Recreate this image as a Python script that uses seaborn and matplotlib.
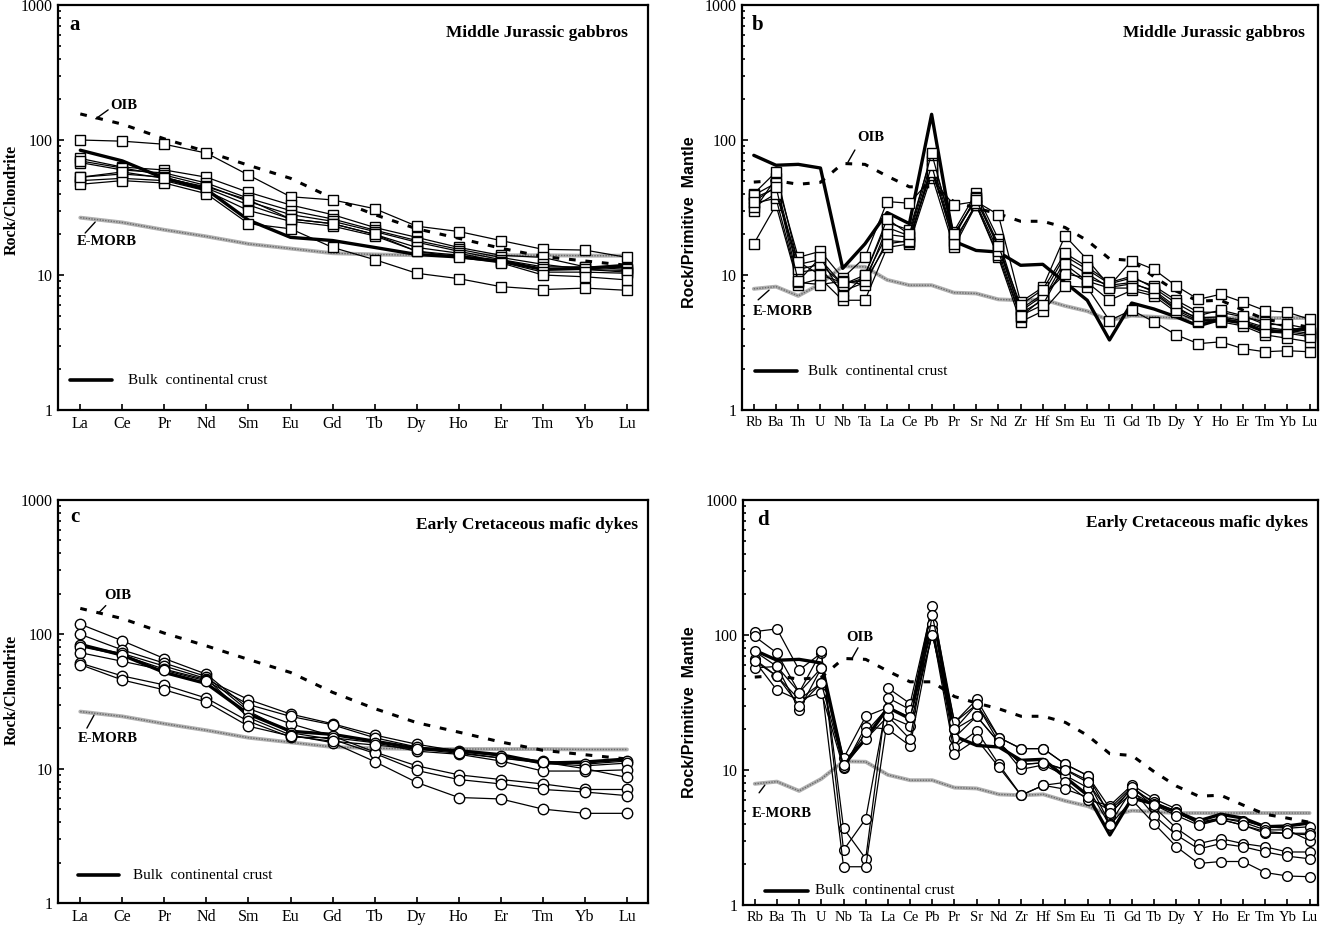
import numpy as np
import pandas as pd
import matplotlib
matplotlib.use('Agg')
import matplotlib.pyplot as plt
import seaborn as sns
from matplotlib.ticker import LogLocator, NullFormatter

# element orders
ree = ['La', 'Ce', 'Pr', 'Nd', 'Sm', 'Eu', 'Gd', 'Tb', 'Dy', 'Ho', 'Er', 'Tm', 'Yb', 'Lu']
spider = ['Rb', 'Ba', 'Th', 'U', 'Nb', 'Ta', 'La', 'Ce', 'Pb', 'Pr', 'Sr', 'Nd', 'Zr',
          'Hf', 'Sm', 'Eu', 'Ti', 'Gd', 'Tb', 'Dy', 'Y', 'Ho', 'Er', 'Tm', 'Yb', 'Lu']

# reference curves (chondrite normalised)
oib_ree = [156, 131, 102, 82, 65, 52, 37, 28, 22, 18.7, 15.8, 13.7, 12.7, 11.8]
emorb_ree = [26.6, 24.5, 21.6, 19.3, 17.0, 15.7, 14.5, 14.2, 14.0, 14.0, 14.0, 14.0, 13.9, 13.9]
bcc_ree = [84, 70, 52, 43, 25.5, 19, 18, 16, 14.2, 13.6, 12.7, 11, 11.2, 11.8]

# reference curves (primitive mantle normalised)
oib_pm = [48.8, 50, 47, 48.6, 67, 66, 54, 45, 45, 35, 31.3, 28.4, 25, 25, 22.5, 18,
          13.2, 12.8, 9.7, 7.6, 6.4, 6.5, 5.5, 4.7, 4.4, 4.1]
emorb_pm = [7.9, 8.2, 7.0, 8.6, 11.6, 11.5, 9.2, 8.4, 8.4, 7.4, 7.3, 6.6, 6.5, 6.6, 5.9,
            5.4, 4.6, 5.0, 4.9, 4.8, 4.8, 4.8, 4.8, 4.8, 4.8, 4.8]
bcc_pm = [77, 65, 66, 62, 11.2, 17, 29, 24, 155, 17.8, 15.2, 14.8, 11.8, 12, 8.8, 6.5,
          3.3, 6.2, 5.6, 4.9, 4.2, 4.7, 4.4, 3.8, 3.85, 4.05]

# Middle Jurassic gabbros, REE
gabbro_ree = [
    [100, 98, 93, 80, 55, 38, 36, 31, 23, 21, 18, 15.5, 15.3, 13.5],
    [73, 63, 60, 53, 41, 33, 28, 22.5, 19, 16, 14, 13.5, 11.5, 11.3],
    [68, 60, 57, 48, 37, 30, 26, 21.5, 18, 15.5, 13.5, 12, 11, 10.8],
    [70, 62, 55, 46, 35, 28, 25, 21, 17.5, 15, 13, 11.5, 11.5, 11],
    [53, 56, 53, 44, 33, 26, 24, 20, 16, 14.5, 12.5, 11, 11, 10.5],
    [50, 52, 50, 42, 30, 25, 23, 19.5, 15, 14, 12.5, 10.5, 10.5, 10.3],
    [47, 50, 48, 40, 24, 22, 16, 13, 10.3, 9.4, 8.2, 7.8, 8.0, 7.7],
    [53, 58, 52, 45, 36, 26, 24, 20, 15, 13.5, 12.3, 10, 9.7, 9.2],
]

# Middle Jurassic gabbros, trace elements
gabbro_pm = [
    [30, 52, 13.5, 15, 9.5, 13.5, 35, 34, 52, 33, 35, 28, 6.3, 8.1, 19.5, 13, 8.3, 12.8, 11, 8.3, 6.6, 7.2, 6.3, 5.45, 5.3, 4.7],
    [17, 33, 8.5, 9.4, 6.5, 6.5, 16, 17, 55, 16, 33, 13.5, 4.5, 5.4, 8.3, 8.1, 4.6, 5.5, 4.5, 3.6, 3.1, 3.2, 2.85, 2.7, 2.75, 2.7],
    [40, 58, 12, 13, 8.5, 10, 24.5, 21.5, 76, 21, 40.5, 18.5, 5.6, 7.2, 13.8, 11, 8.6, 9.5, 8.3, 6.5, 5.3, 5.3, 4.9, 4.5, 4.1, 3.8],
    [37, 44, 10.5, 11, 7.6, 8.8, 22.5, 19.5, 70, 19, 38, 17, 5.2, 6.5, 12.8, 10.2, 8.1, 8.6, 7.7, 5.8, 4.7, 4.7, 4.5, 4.0, 3.8, 3.6],
    [34, 37, 8.8, 8.5, 9, 8.5, 18, 17.5, 62, 18, 33, 14, 4.9, 6.7, 11, 8.8, 6.5, 7.7, 7, 5.3, 4.5, 4.5, 4.2, 3.6, 3.4, 3.2],
    [39, 48, 11, 12, 8.5, 9.5, 20, 19, 58, 20, 37, 16, 5.4, 7, 10.2, 9.5, 8.4, 8.8, 7.5, 5.6, 4.8, 4.9, 4.6, 4.1, 3.9, 3.7],
    [32, 40, 12.5, 10, 8.8, 9, 17, 18, 65, 17, 34, 15, 5.0, 6, 12, 9, 8.0, 8, 7.3, 5.5, 4.6, 4.6, 4.4, 3.8, 3.7, 3.5],
    [35, 45, 9, 13.5, 7, 10, 26, 20, 80, 20, 36, 16.5, 6.0, 7.8, 14.5, 11.5, 8.8, 9.8, 8, 6.2, 5.0, 5.5, 5.0, 4.3, 4.3, 4.0],
]

# Early Cretaceous mafic dykes, REE
dyke_ree = [
    [119, 89.5, 66, 50.5, 28, 21.6, 17.5, 13.3, 10.5, 9.0, 8.3, 7.7, 7.0, 7.0],
    [100, 76.5, 61, 48.5, 26.8, 18.5, 16.5, 13, 9.7, 8.3, 7.7, 7.0, 6.7, 6.3],
    [83, 72, 58, 46.8, 24, 17.8, 15.6, 11.3, 7.9, 6.1, 5.95, 5.0, 4.65, 4.65],
    [81, 70, 55, 46, 32.7, 25.5, 21.6, 17.8, 15.2, 13.5, 12.4, 11.4, 10.8, 11.4],
    [73, 63, 54, 45, 30, 24.5, 21.2, 17, 14.5, 13.2, 12, 11, 10.5, 11],
    [61, 49, 42, 33.5, 22.5, 17.2, 17, 15.6, 13.5, 12.8, 11.4, 9.6, 9.6, 9.8],
    [59.5, 45.7, 38.6, 31.3, 20.7, 17.5, 16, 15, 14, 13, 12, 11.2, 10, 8.6],
]

# Early Cretaceous mafic dykes, trace elements
dyke_pm = [
    [106, 111, 55, 73.5, 3.7, 2.2, 40.5, 31, 163, 22.5, 33.3, 17.4, 14.4, 14.4, 11, 9.1, 4.6, 7.5, 5.3, 3.7, 2.85, 3.1, 2.85, 2.7, 2.47, 2.47],
    [97.5, 73.5, 37.5, 75.5, 2.55, 4.35, 34.3, 28, 110, 20, 30.6, 16, 11, 11.3, 10.1, 8.4, 4.0, 7.2, 4.6, 3.3, 2.6, 2.85, 2.7, 2.47, 2.3, 2.2],
    [66, 49.5, 33.3, 44, 1.92, 1.92, 25, 21.2, 103, 17.4, 25, 16, 10.1, 10.9, 9.1, 7.4, 3.9, 6.0, 4.0, 2.7, 2.03, 2.1, 2.1, 1.74, 1.64, 1.62],
    [75.5, 58.5, 28, 57, 12.2, 25, 29, 24.5, 120, 14.7, 19.5, 11, 6.5, 7.7, 8.1, 6.0, 5.45, 7.75, 6.1, 5.15, 4.0, 4.4, 4.2, 3.8, 3.7, 3.8],
    [64, 39, 33, 37.5, 10.3, 21, 20, 15.1, 108, 13.1, 16.9, 10.5, 6.5, 7.7, 7.2, 6.3, 5.0, 7.2, 5.8, 4.9, 4.0, 4.3, 3.9, 3.4, 3.4, 3.4],
    [57, 58.5, 37.5, 57, 10.5, 16.9, 25, 16.9, 140, 22.5, 30.6, 17.4, 14.4, 14.4, 11, 9.1, 5.2, 7.5, 5.6, 4.8, 4.1, 4.4, 4.1, 3.6, 3.6, 3.0],
    [64, 49.5, 30, 44, 10.8, 19, 29, 24.5, 100, 20, 25, 16, 11, 11.3, 10, 8.1, 4.8, 6.8, 5.5, 4.6, 3.9, 4.3, 3.9, 3.5, 3.4, 3.3],
]

sns.set_style('ticks')
plt.rcParams['font.family'] = ['Liberation Serif', 'DejaVu Serif']
plt.rcParams['axes.linewidth'] = 1.6
plt.rcParams['axes.edgecolor'] = 'black'
plt.rcParams['text.color'] = 'black'
plt.rcParams['xtick.color'] = 'black'
plt.rcParams['ytick.color'] = 'black'

fig = plt.figure(figsize=(13.22, 9.30), dpi=100)
W, H = 1322, 930


def add_axes(x0, x1, y0, y1):
    return fig.add_axes([x0 / W, (H - y1) / H, (x1 - x0) / W, (y1 - y0) / H])


def long_table(samples, elems):
    rows = []
    for k, vals in enumerate(samples):
        for i, v in enumerate(vals):
            rows.append({'sample': k, 'pos': i, 'element': elems[i], 'value': v})
    return pd.DataFrame(rows)


def draw(ax, elems, samples, marker, ms, oib, emorb, bcc, letter, title, lab, xfs):
    n = len(elems)
    pos = np.arange(n)
    ref = pd.DataFrame({'pos': pos, 'oib': oib, 'emorb': emorb, 'bcc': bcc})

    # E-MORB: grey hatched band
    sns.lineplot(data=ref, x='pos', y='emorb', color='#b0b0b0', lw=2.8, ax=ax, zorder=2)
    sns.lineplot(data=ref, x='pos', y='emorb', color='#6a6a6a', lw=1.0, ls=(0, (1, 1)), ax=ax, zorder=2)
    # OIB dashed
    sns.lineplot(data=ref, x='pos', y='oib', color='black', lw=2.2, ls=(0, (2.2, 3.2)), ax=ax, zorder=2)
    # bulk continental crust
    sns.lineplot(data=ref, x='pos', y='bcc', color='black', lw=2.4, ax=ax, zorder=2.5)

    df = long_table(samples, elems)
    sns.lineplot(data=df, x='pos', y='value', units='sample', estimator=None, color='black',
                 lw=0.9, marker=marker, markersize=ms, markerfacecolor='white',
                 markeredgecolor='black', markeredgewidth=1.0, ax=ax, zorder=3, legend=False)

    ax.set_yscale('log')
    ax.set_ylim(1, 1000)
    ax.set_xlim(-0.53, n - 1 + (0.5 if n < 20 else 0.38))
    ax.set_yticks([1, 10, 100, 1000])
    ax.set_yticklabels(['1', '10', '100', '1000'], fontsize=11.5)
    ax.yaxis.set_minor_locator(LogLocator(base=10, subs=np.arange(2, 10)))
    ax.yaxis.set_minor_formatter(NullFormatter())
    ax.set_xticks(pos)
    ax.set_xticklabels(elems, fontsize=xfs)
    ax.tick_params(which='major', direction='in', length=4, width=1.2, pad=4)
    ax.tick_params(which='minor', direction='in', length=2.5, width=1.2)
    ax.set_xlabel('')
    ax.set_ylabel('')
    for s in ax.spines.values():
        s.set_visible(True)
        s.set_linewidth(1.6)
        s.set_color('black')

    ax.text(lab['letter'][0], lab['letter'][1], letter, transform=ax.transAxes,
            fontsize=15, fontweight='bold', va='center', ha='left')
    ax.text(lab['title'][0], lab['title'][1], title, transform=ax.transAxes,
            fontsize=12.5, fontweight='bold', va='center', ha='right')
    ax.text(lab['oib'][0], lab['oib'][1], 'OIB', transform=ax.transAxes,
            fontsize=10.5, fontweight='bold', va='center', ha='left')
    ax.plot(lab['oib_lead'][0], lab['oib_lead'][1], color='black', lw=1, transform=ax.transAxes)
    ax.text(lab['emorb'][0], lab['emorb'][1], 'E-MORB', transform=ax.transAxes,
            fontsize=10.5, fontweight='bold', va='center', ha='left')
    ax.plot(lab['emorb_lead'][0], lab['emorb_lead'][1], color='black', lw=1, transform=ax.transAxes)
    ax.plot(lab['leg_line'][0], lab['leg_line'][1], color='black', lw=2.6, transform=ax.transAxes)
    ax.text(lab['leg_text'][0], lab['leg_text'][1], 'Bulk  continental crust', transform=ax.transAxes,
            fontsize=11, va='center', ha='left')


ax_a = add_axes(58, 648, 5, 410)
ax_b = add_axes(742, 1318, 5, 410)
ax_c = add_axes(58, 648, 500, 903)
ax_d = add_axes(743, 1318, 500, 905)

draw(ax_a, ree, gabbro_ree, 's', 7.5, oib_ree, emorb_ree, bcc_ree, 'a', 'Middle Jurassic gabbros',
     {'letter': (0.02, 0.95), 'title': (0.966, 0.93), 'oib': (0.088, 0.753),
      'oib_lead': ([0.064, 0.085], [0.719, 0.741]), 'emorb': (0.032, 0.417),
      'emorb_lead': ([0.046, 0.063], [0.437, 0.464]), 'leg_line': ([0.02, 0.092], [0.074, 0.074]),
      'leg_text': (0.119, 0.074)}, 11.5)
draw(ax_b, spider, gabbro_pm, 's', 6.5, oib_pm, emorb_pm, bcc_pm, 'b', 'Middle Jurassic gabbros',
     {'letter': (0.017, 0.95), 'title': (0.977, 0.93), 'oib': (0.20, 0.674),
      'oib_lead': ([0.184, 0.196], [0.612, 0.642]), 'emorb': (0.019, 0.244),
      'emorb_lead': ([0.028, 0.047], [0.272, 0.296]), 'leg_line': ([0.023, 0.095], [0.096, 0.096]),
      'leg_text': (0.115, 0.096)}, 10.5)
draw(ax_c, ree, dyke_ree, 'o', 7.5, oib_ree, emorb_ree, bcc_ree, 'c', 'Early Cretaceous mafic dykes',
     {'letter': (0.02, 0.958), 'title': (0.983, 0.938), 'oib': (0.078, 0.764),
      'oib_lead': ([0.069, 0.081], [0.72, 0.738]), 'emorb': (0.034, 0.407),
      'emorb_lead': ([0.049, 0.061], [0.434, 0.466]), 'leg_line': ([0.034, 0.103], [0.069, 0.069]),
      'leg_text': (0.127, 0.069)}, 11.5)
draw(ax_d, spider, dyke_pm, 'o', 7, oib_pm, emorb_pm, bcc_pm, 'd', 'Early Cretaceous mafic dykes',
     {'letter': (0.024, 0.95), 'title': (0.983, 0.943), 'oib': (0.179, 0.661),
      'oib_lead': ([0.19, 0.2], [0.61, 0.635]), 'emorb': (0.016, 0.227),
      'emorb_lead': ([0.028, 0.038], [0.277, 0.296]), 'leg_line': ([0.038, 0.113], [0.035, 0.035]),
      'leg_text': (0.125, 0.035)}, 10.5)

# y axis titles
fig.text(12 / W, 1 - 200 / H, 'Rock/Chondrite', rotation=90, fontsize=11.5, fontweight='bold',
         ha='center', va='center')
fig.text(12 / W, 1 - 690 / H, 'Rock/Chondrite', rotation=90, fontsize=11.5, fontweight='bold',
         ha='center', va='center')
fig.text(690 / W, 1 - 222 / H, 'Rock/Primitive  Mantle', rotation=90, fontsize=11.5, fontweight='bold',
         ha='center', va='center', family=['Liberation Sans', 'DejaVu Sans'])
fig.text(690 / W, 1 - 712 / H, 'Rock/Primitive  Mantle', rotation=90, fontsize=11.5, fontweight='bold',
         ha='center', va='center', family=['Liberation Sans', 'DejaVu Sans'])

fig.savefig('out.png', dpi=100)
